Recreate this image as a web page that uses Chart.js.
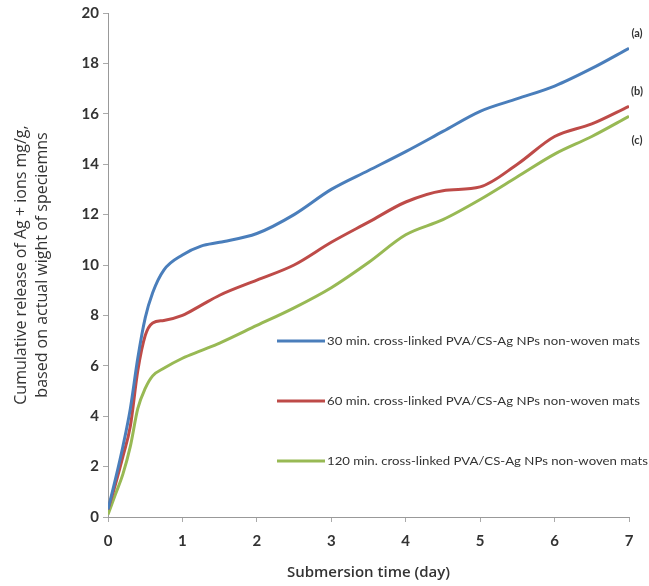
<!DOCTYPE html>
<html>
<head>
<meta charset="utf-8">
<script src="https://cdn.jsdelivr.net/npm/chart.js@4.4.1/dist/chart.umd.min.js"></script>
<style>
  html, body { margin: 0; padding: 0; background: #fff; }
  #wrap { width: 649px; height: 586px; }
</style>
</head>
<body>
<div id="wrap"><canvas id="chart"></canvas></div>
<script>
// submersion time (day)
const days = [0, 0.1, 0.2, 0.3, 0.4, 0.5, 0.6, 0.75, 1, 1.25, 1.5, 2, 2.5, 3, 3.5, 4, 4.5, 5, 5.5, 6, 6.5, 7];
// cumulative Ag+ release, mg/g
const mats30 = [0.3, 1.5, 2.8, 4.3, 6.3, 7.9, 8.9, 9.8, 10.4, 10.75, 10.9, 11.25, 12.0, 13.0, 13.75, 14.5, 15.3, 16.1, 16.6, 17.1, 17.8, 18.6];
const mats60 = [0.3, 1.3, 2.4, 3.6, 5.8, 7.2, 7.7, 7.8, 8.0, 8.4, 8.8, 9.4, 10.0, 10.9, 11.7, 12.5, 12.95, 13.1, 14.0, 15.1, 15.6, 16.3];
const mats120 = [0.1, 0.9, 1.7, 2.8, 4.3, 5.1, 5.6, 5.9, 6.3, 6.6, 6.9, 7.6, 8.3, 9.1, 10.1, 11.2, 11.8, 12.6, 13.5, 14.4, 15.1, 15.9];

const seriesNames = [
  "30 min. cross-linked PVA/CS-Ag NPs non-woven mats",
  "60 min. cross-linked PVA/CS-Ag NPs non-woven mats",
  "120 min. cross-linked PVA/CS-Ag NPs non-woven mats",
];
const endTags = ["(a)", "(b)", "(c)"];
const colors = ["#4a7ebb", "#be4b48", "#98b954"];

const toXY = (ys) => ys.map((y, i) => ({ x: days[i], y }));

// legend drawn inside the plot, like the original
const innerLegend = {
  id: "innerLegend",
  afterDatasetsDraw(chart) {
    const { ctx, chartArea } = chart;
    const x0 = chartArea.left + 169;
    const rows = [341, 401, 461];
    const ends = [chartArea.right + 11, chartArea.right + 11, chartArea.right + 19];
    ctx.save();
    ctx.font = '11px Lato, sans-serif';
    ctx.textBaseline = "middle";
    rows.forEach((y, i) => {
      ctx.strokeStyle = colors[i];
      ctx.lineWidth = 3;
      ctx.beginPath();
      ctx.moveTo(x0, y);
      ctx.lineTo(x0 + 48, y);
      ctx.stroke();
      // stretch text so it spans like the original's condensed font
      const tx = x0 + 50;
      const w = ctx.measureText(seriesNames[i]).width;
      const sx = (ends[i] - tx) / w;
      ctx.save();
      ctx.translate(tx, y);
      ctx.scale(sx, 1);
      ctx.fillStyle = "#333";
      ctx.fillText(seriesNames[i], 0, 0);
      ctx.restore();
    });
    ctx.restore();
  },
};

// (a) (b) (c) tags at the end of each curve
const endLabels = {
  id: "endLabels",
  afterDatasetsDraw(chart) {
    const { ctx } = chart;
    const offs = [-15, -15, 24];
    ctx.save();
    ctx.font = 'bold 11px Lato, sans-serif';
    ctx.fillStyle = "#333";
    ctx.textAlign = "center";
    ctx.textBaseline = "middle";
    chart.data.datasets.forEach((ds, i) => {
      const pts = chart.getDatasetMeta(i).data;
      const last = pts[pts.length - 1];
      ctx.fillText(endTags[i], last.x + 8, last.y + offs[i]);
    });
    ctx.restore();
  },
};

new Chart(document.getElementById("chart"), {
  type: "line",
  data: {
    datasets: [mats30, mats60, mats120].map((ys, i) => ({
      label: seriesNames[i],
      data: toXY(ys),
      borderColor: colors[i],
      backgroundColor: colors[i],
      borderWidth: 3,
      pointRadius: 0,
      tension: 0.4,
      cubicInterpolationMode: "monotone",
    })),
  },
  options: {
    responsive: true,
    maintainAspectRatio: false,
    animation: false,
    layout: { padding: { left: 0, right: 20, top: 9, bottom: 0 } },
    plugins: { legend: { display: false }, tooltip: { enabled: false } },
    scales: {
      x: {
        type: "linear",
        min: 0,
        max: 7,
        ticks: { stepSize: 1, color: "#333", padding: 10, font: { family: "Lato", size: 15, weight: "bold" } },
        grid: { drawOnChartArea: false, tickLength: 5, color: "#aaa" },
        border: { color: "#999" },
        title: {
          display: true,
          text: "Submersion time (day)",
          color: "#333",
          font: { family: "Open Sans", size: 15, weight: "600" },
          padding: { top: 5 },
        },
        afterFit(scale) { scale.height = 69; },
      },
      y: {
        min: 0,
        max: 20,
        ticks: { stepSize: 2, color: "#333", padding: 4, font: { family: "Lato", size: 15, weight: "bold" } },
        grid: { drawOnChartArea: false, tickLength: 5, color: "#aaa" },
        border: { color: "#999" },
        title: {
          display: true,
          text: ["Cumulative release of Ag + ions mg/g,", "based on actual wight of speciemns"],
          color: "#333",
          font: { family: "Open Sans", size: 16, lineHeight: 1.3 },
          padding: { top: 11, bottom: 0 },
        },
        afterFit(scale) { scale.width = 108; },
      },
    },
  },
  plugins: [innerLegend, endLabels],
});
</script>
</body>
</html>
